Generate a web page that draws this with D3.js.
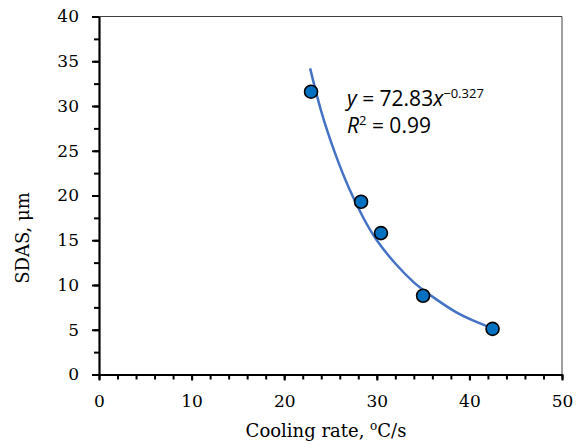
<!DOCTYPE html>
<html>
<head>
<meta charset="utf-8">
<script src="https://cdn.jsdelivr.net/npm/d3@7"></script>
<style>
  body { margin: 0; background: #fff; }
  svg { display: block; }
  .tick text { font-family: "DejaVu Serif", serif; font-size: 17px; fill: #000; }
</style>
</head>
<body>
<div id="chart"></div>
<script>
// measured points
var coolingRate = [22.9, 28.3, 30.45, 35.0, 42.5];
var sdas = [31.6, 19.3, 15.8, 8.8, 5.1];

// power trendline
var trendX = [22.8, 24.0, 25.5, 27.0, 28.5, 30.0, 32.0, 34.0, 36.0, 38.5, 40.5, 42.6];
var trendY = [34.2, 29.4, 24.7, 20.8, 17.6, 15.0, 12.4, 10.3, 8.7, 7.0, 6.0, 5.1];

var xTicks = [0, 10, 20, 30, 40, 50];
var yTicks = [0, 5, 10, 15, 20, 25, 30, 35, 40];

var width = 582, height = 447;
var margin = {top: 16.5, right: 20, bottom: 73, left: 99};
var w = 562 - margin.left, h = 374.5 - margin.top;

var svg = d3.select("#chart").append("svg")
    .attr("width", width)
    .attr("height", height);

var chart = svg.append("g")
    .attr("transform", "translate(" + margin.left + "," + margin.top + ")");

var x = d3.scaleLinear().domain([0, 50]).range([0, w]);
var y = d3.scaleLinear().domain([0, 40]).range([h, 0]);

// top and right frame
chart.append("path")
    .attr("d", "M0,0H" + w + "V" + h)
    .attr("fill", "none")
    .attr("stroke", "#404040")
    .attr("stroke-width", 1);

// minor ticks
chart.append("g")
    .attr("transform", "translate(0," + h + ")")
    .call(d3.axisBottom(x).tickValues(d3.range(0, 51, 2)).tickSize(5).tickFormat(""))
    .call(function(g) { g.select(".domain").remove(); })
    .selectAll("line").attr("stroke-width", 2);

chart.append("g")
    .call(d3.axisLeft(y).tickValues(d3.range(0, 40.1, 2.5)).tickSize(5).tickFormat(""))
    .call(function(g) { g.select(".domain").remove(); })
    .selectAll("line").attr("stroke-width", 2);

// main axes
var xAxis = chart.append("g")
    .attr("transform", "translate(0," + h + ")")
    .call(d3.axisBottom(x).tickValues(xTicks).tickSize(6).tickSizeOuter(0).tickPadding(14));

var yAxis = chart.append("g")
    .call(d3.axisLeft(y).tickValues(yTicks).tickSize(7).tickSizeOuter(0).tickPadding(13));

[xAxis, yAxis].forEach(function(a) {
    a.select(".domain").attr("stroke-width", 2.2);
    a.selectAll(".tick line").attr("stroke-width", 2);
});

// trendline
var line = d3.line()
    .x(function(d) { return x(d[0]); })
    .y(function(d) { return y(d[1]); })
    .curve(d3.curveNatural);

chart.append("path")
    .datum(d3.zip(trendX, trendY))
    .attr("d", line)
    .attr("fill", "none")
    .attr("stroke", "#4472C4")
    .attr("stroke-width", 2.5);

chart.selectAll(".dot")
    .data(d3.zip(coolingRate, sdas))
    .enter().append("circle")
    .attr("class", "dot")
    .attr("cx", function(d) { return x(d[0]); })
    .attr("cy", function(d) { return y(d[1]); })
    .attr("r", 6.5)
    .attr("fill", "#0070C0")
    .attr("stroke", "#000")
    .attr("stroke-width", 1.6);

// equation
var eq = svg.append("text")
    .attr("x", 347)
    .attr("y", 106)
    .style("font-family", "'Open Sans', sans-serif")
    .style("font-size", "21px");
eq.append("tspan").style("font-style", "italic").text("y");
eq.append("tspan").text(" = 72.83");
eq.append("tspan").style("font-style", "italic").text("x");
eq.append("tspan").attr("dy", -8).style("font-size", "13px").text("\u22120.327");

var r2 = svg.append("text")
    .attr("x", 347)
    .attr("y", 133)
    .style("font-family", "'Open Sans', sans-serif")
    .style("font-size", "21px");
r2.append("tspan").style("font-style", "italic").text("R");
r2.append("tspan").attr("dy", -8).style("font-size", "13px").text("2");
r2.append("tspan").attr("dy", 8).text(" = 0.99");

// axis titles
var xt = svg.append("text")
    .attr("x", 326)
    .attr("y", 437)
    .attr("text-anchor", "middle")
    .style("font-family", "'DejaVu Serif', serif")
    .style("font-size", "18px");
xt.append("tspan").text("Cooling rate, ");
xt.append("tspan").attr("dy", -7).style("font-size", "12px").text("o");
xt.append("tspan").attr("dy", 7).text("C/s");

svg.append("text")
    .attr("transform", "translate(29,238) rotate(-90)")
    .attr("text-anchor", "middle")
    .style("font-family", "'DejaVu Serif', serif")
    .style("font-size", "18px")
    .text("SDAS, \u03bcm");
</script>
</body>
</html>
